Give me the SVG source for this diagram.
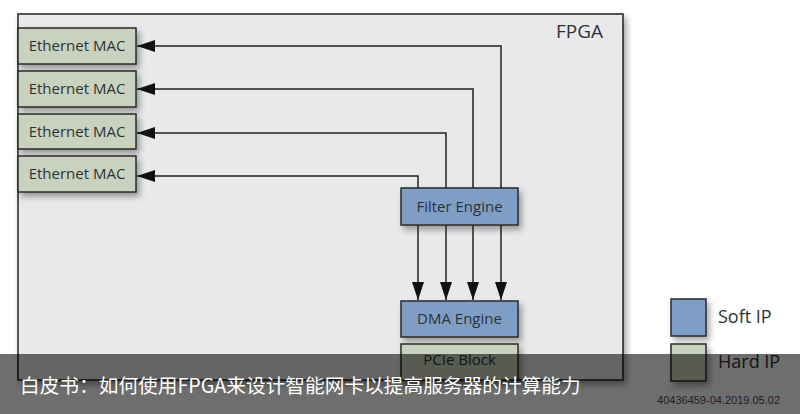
<svg xmlns="http://www.w3.org/2000/svg" width="800" height="414" viewBox="0 0 800 414">
<style>
.lbl{font-family:"Open Sans","Liberation Sans",sans-serif;font-size:15px;fill:#2e3236}
.mac rect{fill:#c9d2bf;stroke:#2a2a2a;stroke-width:1.5}
.soft rect{fill:#7f9ec6;stroke:#2a2a2a;stroke-width:1.5}
.wire{fill:none;stroke:#222;stroke-width:1.5}
</style>
<defs>
<filter id="sh" x="-20%" y="-20%" width="150%" height="160%">
<feDropShadow dx="3" dy="4" stdDeviation="3" flood-color="#000" flood-opacity="0.35"/>
</filter>
<marker id="ah" markerWidth="18" markerHeight="12" refX="18" refY="6" orient="auto" markerUnits="userSpaceOnUse">
<path d="M0,0 L18,6 L0,12 Z" fill="#111"/>
</marker>
</defs>
<rect width="800" height="414" fill="#ffffff"/>
<g id="fpga">
<rect x="18" y="14" width="605" height="366" fill="#e9e9eb" stroke="#222" stroke-width="1.5" filter="url(#sh)"/>
<text x="556" y="38" style="font-family:'Open Sans','Liberation Sans',sans-serif;font-size:19px;fill:#2e3236">FPGA</text>
</g>
<g id="mac1" class="mac"><rect x="18" y="28" width="118" height="36" filter="url(#sh)"/><text class="lbl" x="77" y="51" text-anchor="middle">Ethernet MAC</text></g>
<g id="mac2" class="mac"><rect x="18" y="71" width="118" height="36" filter="url(#sh)"/><text class="lbl" x="77" y="94" text-anchor="middle">Ethernet MAC</text></g>
<g id="mac3" class="mac"><rect x="18" y="114" width="118" height="35" filter="url(#sh)"/><text class="lbl" x="77" y="137" text-anchor="middle">Ethernet MAC</text></g>
<g id="mac4" class="mac"><rect x="18" y="156" width="118" height="36" filter="url(#sh)"/><text class="lbl" x="77" y="179" text-anchor="middle">Ethernet MAC</text></g>
<g id="filter" class="soft"><rect x="401" y="188" width="117" height="37" filter="url(#sh)"/><text class="lbl" x="459.5" y="212" text-anchor="middle">Filter Engine</text></g>
<g id="dma" class="soft"><rect x="401" y="301" width="117" height="36" filter="url(#sh)"/><text class="lbl" x="459.5" y="324" text-anchor="middle">DMA Engine</text></g>
<g id="pcie" class="mac"><rect x="401" y="344" width="117" height="36" filter="url(#sh)"/><text class="lbl" x="459.5" y="365" text-anchor="middle">PCIe Block</text></g>
<g id="connectors">
<path class="wire" d="M501,188 V46 H137" marker-end="url(#ah)"/>
<path class="wire" d="M473,188 V89 H137" marker-end="url(#ah)"/>
<path class="wire" d="M446,188 V133 H137" marker-end="url(#ah)"/>
<path class="wire" d="M418,188 V176 H137" marker-end="url(#ah)"/>
<path class="wire" d="M418,225 V300" marker-end="url(#ah)"/>
<path class="wire" d="M446,225 V300" marker-end="url(#ah)"/>
<path class="wire" d="M473,225 V300" marker-end="url(#ah)"/>
<path class="wire" d="M501,225 V300" marker-end="url(#ah)"/>
</g>
<g id="legend-soft" class="soft"><rect x="671" y="299" width="35" height="37" filter="url(#sh)"/><text x="718" y="323" style="font-family:'Open Sans','Liberation Sans',sans-serif;font-size:18px;fill:#2e3236">Soft IP</text></g>
<g id="legend-hard" class="mac"><rect x="671" y="344" width="35" height="37" filter="url(#sh)"/><text x="718" y="368" style="font-family:'Open Sans','Liberation Sans',sans-serif;font-size:18px;fill:#2e3236">Hard IP</text></g>
<rect x="0" y="354" width="800" height="60" fill="#000" opacity="0.57"/>
<text x="20" y="393" style="font-family:'Noto Sans CJK SC',sans-serif;font-size:19.7px;fill:#ffffff">白皮书：如何使用FPGA来设计智能网卡以提高服务器的计算能力</text>
<text x="780" y="404" text-anchor="end" style="font-family:'Liberation Sans',sans-serif;font-size:11px;fill:#1e1e1e">40436459-04.2019.05.02</text>
</svg>
